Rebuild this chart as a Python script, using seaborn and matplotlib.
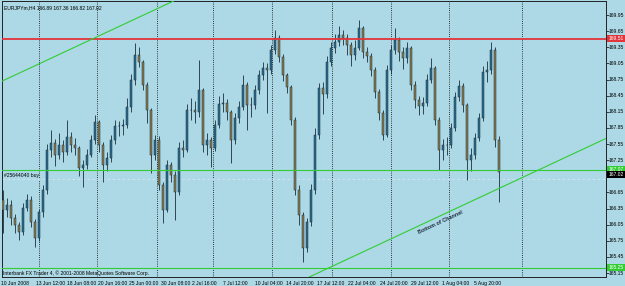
import numpy as np
import pandas as pd
import matplotlib
matplotlib.use("Agg")
import matplotlib.pyplot as plt
import matplotlib.transforms as mtransforms
import seaborn as sns

# ---------------- data ----------------
header_text = "EURJPYm,H4 166.89 167.36 166.82 167.02"
first_open = 166.50
close = [166.32, 166.42, 166.17, 166.04, 165.91, 166.36, 166.51, 166.10, 165.81, 166.28,
         166.69, 167.44, 167.57, 167.35, 167.53, 167.40, 167.68, 167.53, 167.48, 167.10,
         167.16, 167.35, 167.62, 167.96, 167.53, 167.16, 167.29, 167.62, 167.88, 167.88,
         167.90, 168.24, 168.74, 169.21, 169.08, 168.65, 168.18, 167.35, 167.62, 166.79,
         166.32, 167.16, 166.97, 166.66, 167.48, 167.44, 168.18, 168.18, 168.15, 168.55,
         167.53, 167.62, 167.48, 167.90, 168.29, 168.31, 168.14, 167.62, 168.03, 168.24,
         168.65, 168.28, 168.28, 168.55, 168.83, 168.96, 168.93, 169.30, 169.52, 169.17,
         168.83, 168.61, 168.00, 166.69, 166.23, 165.62, 166.10, 166.69, 167.72, 168.59,
         168.48, 169.08, 169.34, 169.45, 169.58, 169.52, 169.39, 169.21, 169.34, 169.71,
         169.26, 169.19, 168.93, 168.52, 168.13, 167.72, 168.93, 169.30, 169.48, 169.26,
         169.15, 169.34, 168.65, 168.37, 168.26, 168.31, 168.74, 168.96, 168.00, 167.44,
         167.53, 167.53, 167.85, 168.42, 168.63, 168.28, 167.25, 167.35, 167.66, 168.03,
         168.89, 168.93, 169.30, 167.62, 167.02]
high = [166.69, 166.55, 166.50, 166.25, 166.10, 166.45, 166.62, 166.58, 166.15, 166.35,
        166.78, 167.55, 167.81, 167.65, 167.75, 167.62, 168.00, 167.78, 167.66, 167.52,
        167.25, 167.45, 167.72, 168.09, 168.00, 167.58, 167.40, 167.72, 168.00, 167.98,
        168.02, 168.40, 168.85, 169.43, 169.35, 169.12, 168.70, 168.22, 167.72, 167.70,
        166.85, 167.25, 167.22, 167.05, 167.58, 167.62, 168.30, 168.40, 168.35, 169.11,
        168.60, 167.75, 167.68, 168.00, 168.45, 168.50, 168.38, 168.18, 168.12, 168.35,
        168.83, 168.70, 168.42, 168.65, 168.93, 169.08, 169.05, 169.40, 169.67, 169.58,
        169.22, 168.88, 168.65, 168.05, 166.78, 166.28, 166.18, 166.80, 167.85, 168.68,
        168.70, 169.18, 169.45, 169.60, 169.75, 169.68, 169.60, 169.45, 169.48, 169.86,
        169.75, 169.35, 169.25, 168.98, 168.58, 168.18, 169.02, 169.40, 169.71, 169.55,
        169.35, 169.45, 169.38, 168.72, 168.45, 168.42, 168.85, 169.15, 169.00, 168.05,
        167.65, 167.68, 167.95, 168.52, 168.74, 168.68, 168.32, 167.48, 167.75, 168.12,
        169.00, 169.10, 169.45, 169.35, 167.70]
low = [165.89, 166.20, 166.05, 165.90, 165.76, 165.85, 166.30, 166.00, 165.63, 165.75,
       166.20, 166.62, 167.30, 167.15, 167.28, 167.22, 167.35, 167.40, 167.35, 166.95,
       166.75, 167.08, 167.30, 167.55, 167.40, 166.84, 167.05, 167.22, 167.55, 167.70,
       167.72, 167.85, 168.15, 168.65, 168.98, 168.55, 167.95, 167.01, 167.25, 166.70,
       166.08, 166.28, 166.85, 166.14, 166.60, 167.30, 167.40, 168.00, 167.95, 168.05,
       167.40, 167.35, 167.12, 167.42, 167.85, 168.15, 168.00, 167.20, 167.55, 167.95,
       168.18, 167.81, 168.05, 168.20, 168.48, 168.75, 168.13, 168.85, 169.22, 169.08,
       168.72, 168.50, 167.90, 166.60, 166.05, 165.35, 165.55, 166.02, 166.62, 167.65,
       168.10, 168.40, 169.00, 169.25, 169.38, 169.40, 169.20, 169.00, 169.12, 169.30,
       169.15, 169.08, 168.82, 168.40, 168.00, 167.62, 167.68, 168.85, 169.22, 169.10,
       168.95, 169.05, 168.55, 168.22, 168.09, 168.10, 168.25, 168.68, 167.90, 167.07,
       167.25, 167.35, 167.48, 167.80, 168.35, 168.15, 166.88, 167.05, 167.28, 167.60,
       167.98, 168.70, 168.85, 167.50, 166.48]

date_labels = ["10 Jun 2008", "13 Jun 12:00", "18 Jun 08:00", "20 Jun 16:00",
               "25 Jun 00:00", "30 Jun 08:00", "2 Jul 16:00", "7 Jul 12:00",
               "10 Jul 04:00", "14 Jul 20:00", "17 Jul 12:00", "22 Jul 04:00",
               "24 Jul 20:00", "29 Jul 12:00", "1 Aug 04:00", "5 Aug 20:00"]
price_ticks = [169.95, 169.65, 169.35, 169.05, 168.75, 168.45, 168.15, 167.85, 167.55,
               167.25, 166.95, 166.65, 166.35, 166.05, 165.75, 165.45, 165.15]

resistance = 169.51
support = 167.07
floor_level = 165.25
order_price = 166.89
bid_price = 167.02
order_text = "#25644040 buy"
channel_text = "Bottom of Channel"
copyright_text = "Interbank FX Trader 4, \u00a9 2001-2008 MetaQuotes Software Corp."
channel_slope = 0.03475          # price per bar
upper_anchor = (22.5, 169.51)    # (bar, price)
lower_anchor = (134.25, 167.08)  # (bar, price)
separator_bars = [9.1, 23.6, 38.4, 52.6, 67.3, 82.2, 96.9, 111.6, 129.7]

# ---------------- style ----------------
BG = "#add8e6"
BULL = "#2b6d8f"
BEAR = "#8a7a50"
WICK = "#1b2f3a"
GREEN = "#32cd32"
RED = "#e3343a"
FS = 3.6

sns.set_theme(style="white", rc={"axes.facecolor": BG, "figure.facecolor": BG})
plt.rcParams["font.family"] = ["Liberation Sans Narrow", "Liberation Sans", "DejaVu Sans"]

W, H = 625, 286
fig = plt.figure(figsize=(W / 100, H / 100), dpi=100, facecolor=BG)
ax = fig.add_axes([2 / W, 9 / H, 604 / W, 276 / H])
ax.set_facecolor(BG)

df = pd.DataFrame({"close": close, "high": high, "low": low})
df["open"] = [first_open] + close[:-1]
df["bar"] = np.arange(len(df))
up = df["close"] >= df["open"]

# period separators
for s in separator_bars:
    ax.axvline(s, color="black", lw=0.6, ls=(0, (1, 1.6)), zorder=1)

# candles
ax.vlines(df["bar"], df["low"], df["high"], color=WICK, lw=0.6, zorder=3)
ax.bar(df["bar"][up], (df["close"] - df["open"])[up], bottom=df["open"][up],
       width=0.62, color=BULL, edgecolor=WICK, linewidth=0.35, zorder=4)
ax.bar(df["bar"][~up], (df["open"] - df["close"])[~up], bottom=df["close"][~up],
       width=0.62, color=BEAR, edgecolor=WICK, linewidth=0.35, zorder=4)

# horizontal levels
ax.axhline(order_price, color="#d4e8ef", lw=0.6, ls=(0, (3, 3)), zorder=2)
ax.axhline(resistance, color=RED, lw=1.3, zorder=5)
ax.axhline(support, color=GREEN, lw=0.8, zorder=5)
ax.axhline(floor_level, color=GREEN, lw=0.8, zorder=5)

# channel lines
ax.axline(upper_anchor, slope=channel_slope, color=GREEN, lw=0.8, zorder=5)
ax.axline(lower_anchor, slope=channel_slope, color=GREEN, lw=0.8, zorder=5)

ax.set_xlim(-0.25, 150.75)
ax.set_ylim(165.0756, 170.2105)

# texts inside chart
ax.text(0.003, 0.985, header_text, transform=ax.transAxes, fontsize=FS,
        ha="left", va="top", color="black")
ax.text(0.25, order_price + 0.02, order_text, fontsize=FS, ha="left", va="bottom",
        color="black", zorder=6)
ax.text(0.002, 0.0145, copyright_text, transform=ax.transAxes, fontsize=FS,
        ha="left", va="center", color="black")
ang = np.degrees(np.arctan(0.467))
ax.text(109.25, 166.10, channel_text, fontsize=FS + 0.3, fontweight="bold",
        rotation=ang, rotation_mode="anchor", ha="center", va="center",
        color="#1f2f3f", zorder=6)

# right price scale
ax.yaxis.tick_right()
ax.set_yticks(price_ticks)
ax.set_yticklabels([])
ax.tick_params(axis="y", length=2, width=0.5, color="black", direction="out")
tr = mtransforms.blended_transform_factory(ax.transAxes, ax.transData)
for p in price_ticks:
    ax.text(1.004, p, f"{p:.2f}", transform=tr, fontsize=FS, ha="left",
            va="center", color="black", clip_on=False)
boxes = [(resistance, RED, "white"), (support, GREEN, "white"),
         (floor_level, GREEN, "white"), (bid_price - 0.04, "black", "white")]
for val, bg, fg in boxes:
    lab = f"{(bid_price if bg == 'black' else val):.2f}"
    ax.text(1.004, val, lab, transform=tr, fontsize=FS, ha="left", va="center",
            color=fg, clip_on=False, zorder=10,
            bbox=dict(boxstyle="square,pad=0.25", fc=bg, ec="none"))

# bottom time scale
label_step = 7.825
first_tick = 7.625
tick_pos = [first_tick + label_step * j for j in range(len(date_labels) - 1)]
ax.set_xticks(tick_pos)
ax.set_xticklabels([])
ax.tick_params(axis="x", length=2.2, width=0.5, color="black", direction="out")
trx = mtransforms.blended_transform_factory(ax.transData, ax.transAxes)
label_pos = [-0.5] + [t + 0.5 for t in tick_pos]
for pos, lab in zip(label_pos, date_labels):
    ax.text(pos, -0.022, lab, transform=trx, fontsize=FS, ha="left", va="center",
            color="black", clip_on=False)

for sp in ax.spines.values():
    sp.set_visible(True)
    sp.set_color("#222222")
    sp.set_linewidth(0.7)

fig.savefig("out.png", dpi=100, facecolor=BG)
